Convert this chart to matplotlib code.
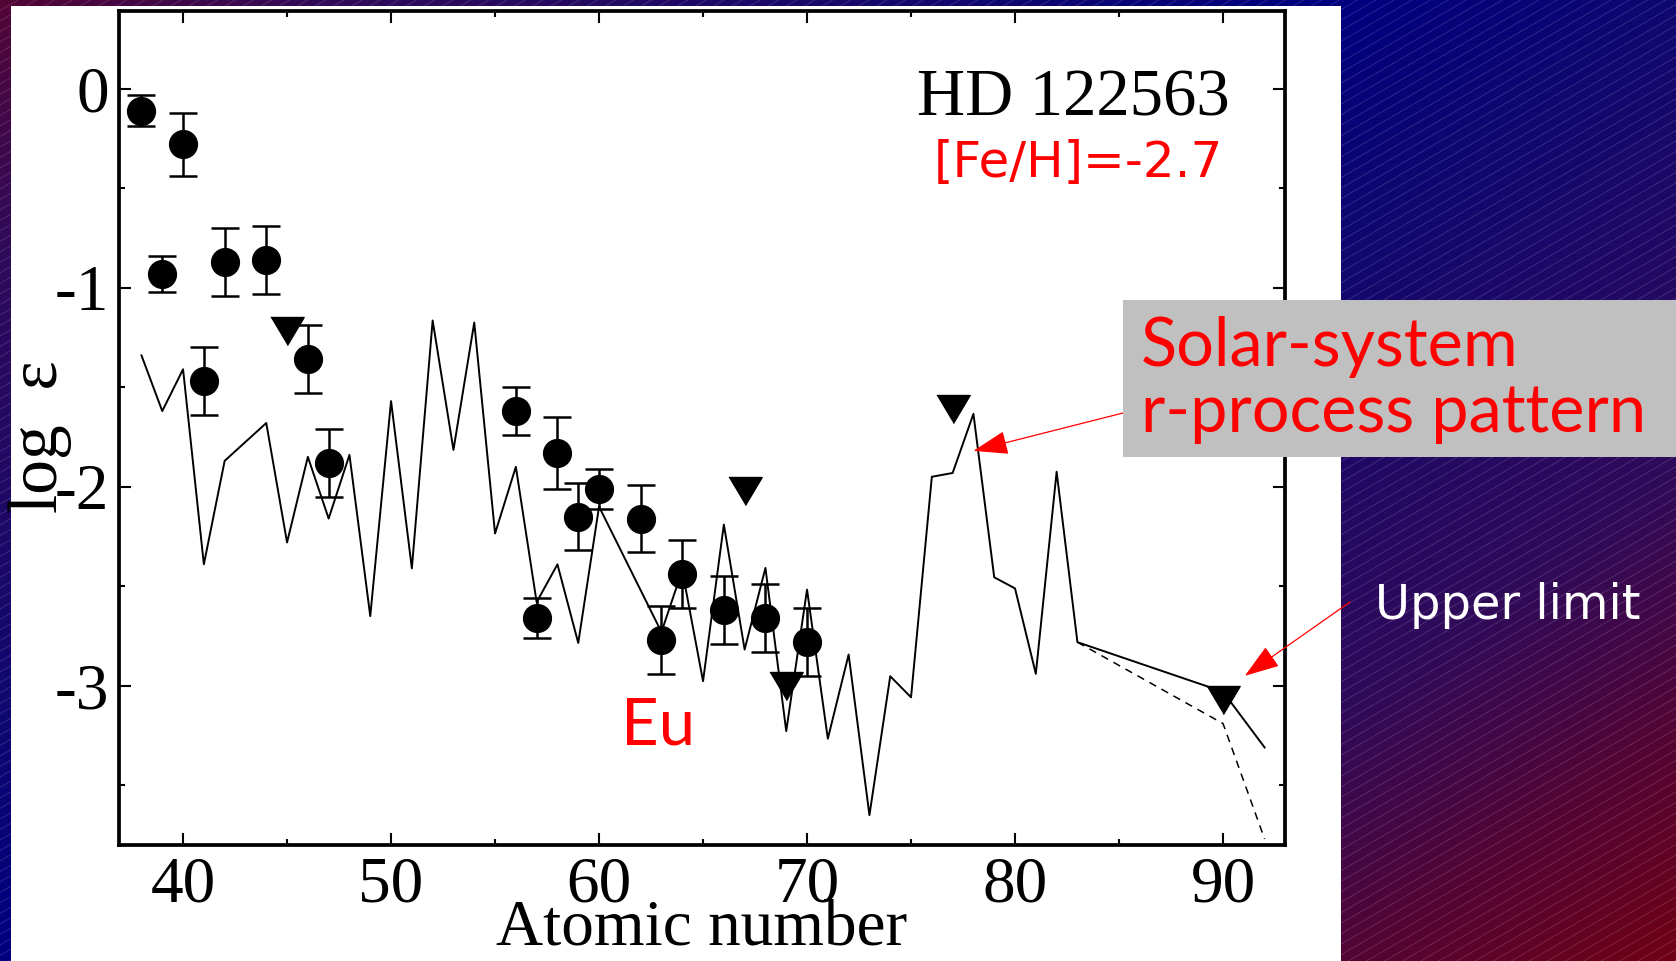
import numpy as np
import matplotlib
matplotlib.use("Agg")
import matplotlib.pyplot as plt
from matplotlib.patches import Rectangle
from matplotlib.ticker import MultipleLocator

plt.rcParams['axes.unicode_minus'] = False

# ---------------- data ----------------
# measured abundances (filled circles with error bars)
obs_z = [38, 39, 40, 41, 42, 44, 46, 47, 56, 57, 58, 59, 60, 62, 63, 64, 66, 68, 70]
obs_val = [-0.11, -0.93, -0.28, -1.47, -0.87, -0.86, -1.36, -1.88, -1.62, -2.66,
           -1.83, -2.15, -2.01, -2.16, -2.77, -2.44, -2.62, -2.66, -2.78]
obs_err = [0.08, 0.09, 0.16, 0.17, 0.17, 0.17, 0.17, 0.17, 0.12, 0.10,
           0.18, 0.17, 0.10, 0.17, 0.17, 0.17, 0.17, 0.17, 0.17]

# upper limits (down triangles)
lim_z = [45, 67, 69, 77, 90]
lim_val = [-1.22, -2.02, -3.00, -1.61, -3.07]

# solar-system r-process pattern (solid)
sol_z = [38, 39, 40, 41, 42, 44, 45, 46, 47, 48, 49, 50, 51, 52, 53, 54, 55, 56, 57,
         58, 59, 60, 62, 63, 64, 65, 66, 67, 68, 69, 70, 71, 72, 73, 74, 75, 76, 77,
         78, 79, 80, 81, 82, 83, 90, 92]
sol_val = [-1.34, -1.62, -1.41, -2.39, -1.87, -1.68, -2.28, -1.85, -2.16, -1.84,
           -2.65, -1.57, -2.41, -1.165, -1.815, -1.175, -2.235, -1.90, -2.58,
           -2.39, -2.785, -2.10, -2.52, -2.73, -2.42, -2.977, -2.19, -2.818,
           -2.408, -3.228, -2.517, -3.266, -2.843, -3.65, -2.952, -3.058, -1.95,
           -1.931, -1.634, -2.455, -2.511, -2.94, -1.925, -2.781, -3.03, -3.31]

# alternative actinide tail (dashed)
alt_z = [83, 90, 92]
alt_val = [-2.781, -3.19, -3.77]

x_ticks = [40, 50, 60, 70, 80, 90]
y_ticks = [0, -1, -2, -3]

# ---------------- figure ----------------
W, H = 1676, 961
fig = plt.figure(figsize=(W / 100, H / 100), dpi=100)

# background: mirrored diagonal gradient (blue band from top-right to
# bottom-left, red toward the other corners) + fine diagonal hatch
bg = fig.add_axes([0, 0, 1, 1], zorder=-10)
u = np.linspace(0, 1, 420)[None, :]
v = np.linspace(0, 1, 260)[:, None]
d = np.abs(u / 0.8 + v - 1.0)
stops = [0.0, 0.25, 0.75, 1.0, 1.3]
rch = [0.00, 0.06, 0.19, 0.32, 0.46]
gch = [0.00, 0.03, 0.04, 0.02, 0.00]
bch = [0.50, 0.44, 0.35, 0.21, 0.06]
img = np.dstack([np.interp(d, stops, rch), np.interp(d, stops, gch),
                 np.interp(d, stops, bch)])
bg.imshow(img, extent=[0, W, H, 0], aspect='auto', interpolation='bilinear')
xs = np.array([0, W])
for c in np.arange(0, H + 0.58 * W + 20, 10.5):
    bg.plot(xs, c - 0.58 * xs, color='white', lw=0.45, alpha=0.22)
bg.add_patch(Rectangle((11, 6), 1330, 960, facecolor='white', edgecolor='none'))
bg.set_xlim(0, W)
bg.set_ylim(H, 0)
bg.axis('off')

# main axes
ax = fig.add_axes([119 / W, 1 - 845 / H, (1285 - 119) / W, (845 - 11) / H])
ax.set_facecolor('white')

ax.plot(sol_z, sol_val, color='black', lw=1.4, zorder=2)
ax.plot(alt_z, alt_val, color='black', lw=1.1, ls=(0, (5, 4)), zorder=2)
ax.errorbar(obs_z, obs_val, yerr=obs_err, fmt='o', ms=20, color='black',
            ecolor='black', elinewidth=1.8, capsize=10, capthick=1.8, zorder=3)
tri = [(-1, 0.84), (1, 0.84), (0, -0.84)]
ax.plot(lim_z, lim_val, ls='none', marker=tri, ms=24, color='black', zorder=3)

ax.set_xlim(36.92, 92.98)
ax.set_ylim(-3.8, 0.39)
ax.set_xticks(x_ticks)
ax.set_yticks(y_ticks)
ax.xaxis.set_minor_locator(MultipleLocator(5))
ax.yaxis.set_minor_locator(MultipleLocator(0.5))
ax.tick_params(which='both', direction='in', top=True, right=True,
               width=1.5, colors='black')
ax.tick_params(which='major', length=8.5)
ax.tick_params(axis='x', which='major', pad=8)
ax.tick_params(axis='y', which='major', pad=7)
ax.tick_params(which='minor', length=4.5)
for lab in ax.get_xticklabels() + ax.get_yticklabels():
    lab.set_fontfamily('Liberation Serif')
    lab.set_fontsize(47)
for sp in ax.spines.values():
    sp.set_linewidth(2.7)

ax.set_xlabel('Atomic number', family='Liberation Serif', fontsize=47)
ax.xaxis.set_label_coords(0.5, -0.065)
ax.set_ylabel('log  ε', family='Liberation Serif', fontsize=50)
ax.yaxis.set_label_coords(-0.040, 0.489)

ax.text(0.953, 0.875, 'HD 122563', transform=ax.transAxes, ha='right',
        va='baseline', family='Liberation Serif', fontsize=48, color='black')
ax.text(0.947, 0.801, '[Fe/H]=-2.7', transform=ax.transAxes, ha='right',
        va='baseline', family='DejaVu Sans', fontsize=36, color='red')
ax.text(0.4305, 0.1207, 'Eu', transform=ax.transAxes, ha='left',
        va='baseline', family='Lato', fontsize=47, color='red')

# grey label box
fig.patches.append(Rectangle((1123 / W, 1 - 456.5 / H), 1 - 1123 / W, 156.5 / H,
                             transform=fig.transFigure, facecolor='#c0c0c0',
                             edgecolor='none', zorder=5))
fig.text(1141 / W, 1 - 366 / H, 'Solar-system', ha='left', va='baseline',
         family='Lato', fontsize=48, color='red', zorder=6)
fig.text(1141 / W, 1 - 432 / H, 'r-process pattern', ha='left', va='baseline',
         family='Lato', fontsize=48, color='red', zorder=6)
fig.text(1375 / W, 1 - 619 / H, 'Upper limit', ha='left', va='baseline',
         family='DejaVu Sans', fontsize=34.5, color='white', zorder=6)

arrow_kw = dict(arrowstyle='-|>,head_length=2.2,head_width=0.75', color='red',
                lw=0.9, shrinkA=0, shrinkB=0, mutation_scale=10)
ax.annotate('', xy=(78.0, -1.82), xycoords='data',
            xytext=(1123 / W, 1 - 413 / H), textcoords='figure fraction',
            arrowprops=arrow_kw, annotation_clip=False, zorder=7)
ax.annotate('', xy=(91.05, -2.95), xycoords='data',
            xytext=(1350 / W, 1 - 602 / H), textcoords='figure fraction',
            arrowprops=arrow_kw, annotation_clip=False, zorder=7)

fig.savefig('out.png', dpi=100)
